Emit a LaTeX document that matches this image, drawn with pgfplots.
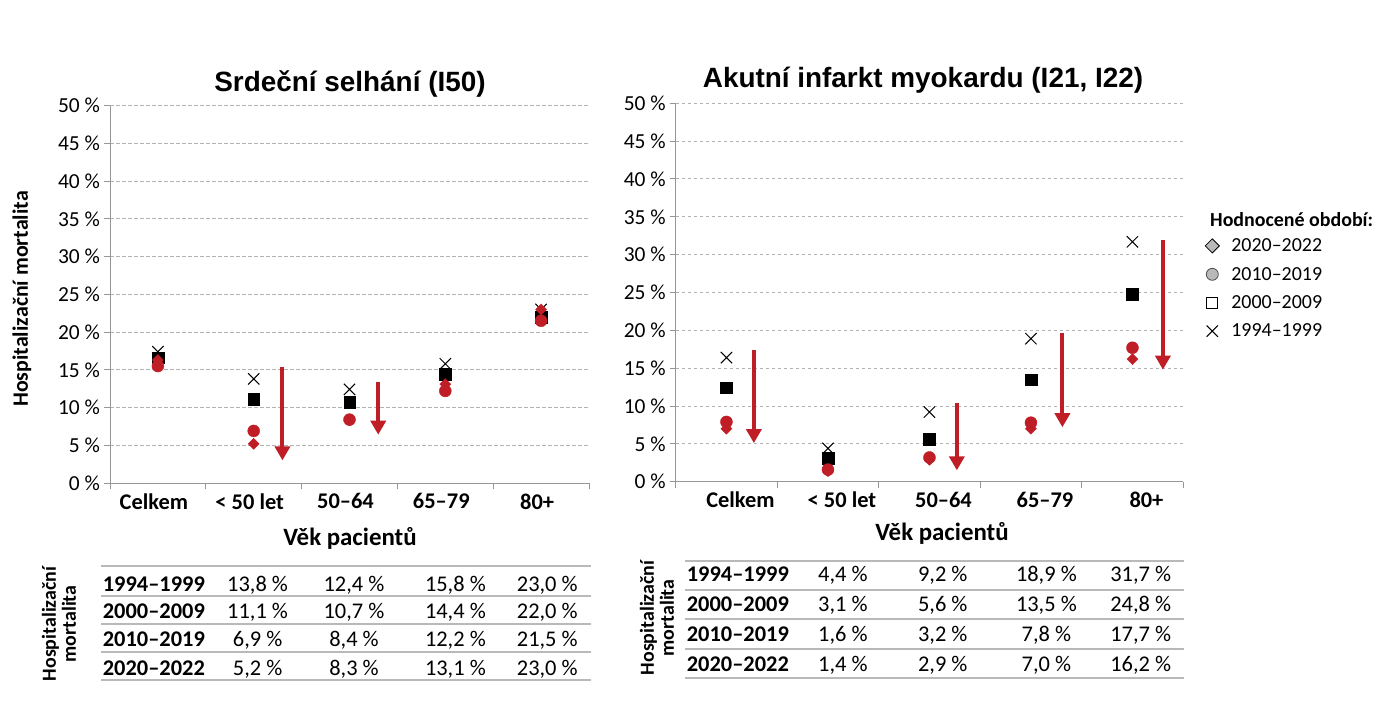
\documentclass[border=0pt]{standalone}
\usepackage{pgfplots}
\pgfplotsset{compat=1.18}
\usepackage{fontspec}
\setmainfont{Carlito}
\newfontfamily\arialfont{Liberation Sans}
\usetikzlibrary{arrows.meta}

\definecolor{mred}{RGB}{192,30,38}
\definecolor{gridgray}{RGB}{178,178,178}
\definecolor{axgray}{RGB}{150,150,150}
\definecolor{tabgray}{RGB}{185,185,185}

\pgfplotsset{
  mort/.style={
    scale only axis,
    clip=false,
    xmin=-0.5, xmax=4.5, ymin=0, ymax=50,
    axis x line*=bottom, axis y line*=left,
    axis line style={axgray, line width=1bp},
    xtick={0,...,4},
    xticklabels={Celkem, {< 50 let}, 50–64, 65–79, 80+},
    xticklabel style={font=\fontsize{22.5}{26}\selectfont\bfseries, yshift=-1bp},
    major x tick style={draw=none},
    minor xtick={-0.5,0.5,...,4.5},
    minor x tick style={axgray, line width=1bp},
    minor tick length=6bp,
    ytick={0,5,...,50},
    yticklabels={0 \%,5 \%,10 \%,15 \%,20 \%,25 \%,30 \%,35 \%,40 \%,45 \%,50 \%},
    yticklabel style={font=\fontsize{21.5}{25}\selectfont, xshift=-0.5bp},
    major y tick style={axgray, line width=1bp},
    major tick length=6bp,
    tick align=outside,
    ymajorgrids,
    grid style={gridgray, line width=1bp, dash pattern=on 3.5bp off 2.5bp},
  },
  s94/.style={only marks, mark=x, mark size=8bp, black, line width=1bp, forget plot},
  s00/.style={only marks, mark=square*, mark size=5.8bp, black, forget plot},
  s10/.style={only marks, mark=*, mark size=6bp, mred, forget plot},
  s20/.style={only marks, mark=square*, mark size=3.9bp, mark options={rotate=45}, mred, forget plot},
  arr/.style={mred, line width=4bp, -{Triangle[width=15bp, length=14bp]}, forget plot},
}
\tikzset{
  tval/.style={anchor=base, inner sep=0pt, font=\fontsize{22.5}{26}\selectfont},
  tlab/.style={anchor=base west, inner sep=0pt, font=\bfseries\fontsize{22.5}{26}\selectfont},
}

\begin{document}
\begin{tikzpicture}
\path[use as bounding box] (0,0) rectangle (1380bp,-719bp);

% Srdecni selhani
\begin{axis}[mort, at={(110bp,-483bp)}, anchor=south west, width=479bp, height=377.3bp,
  xticklabel style={xshift=-4bp}]
\addplot[s94] coordinates {(0,17.4) (1,13.8) (2,12.4) (3,15.8) (4,23.0)};
\addplot[s00] coordinates {(0,16.6) (1,11.1) (2,10.7) (3,14.4) (4,22.0)};
\addplot[s10] coordinates {(0,15.5) (1,6.9) (2,8.4) (3,12.2) (4,21.5)};
\addplot[s20] coordinates {(0,16.3) (1,5.2) (2,8.3) (3,13.1) (4,23.0)};
\addplot[arr] coordinates {(1.3,15.4) (1.3,3.0)};
\addplot[arr] coordinates {(2.3,13.4) (2.3,6.4)};
\end{axis}

% Akutni infarkt myokardu
\begin{axis}[mort, at={(675.7bp,-481.7bp)}, anchor=south west, width=507.5bp, height=378.4bp,
  xticklabel style={xshift=14bp},
  legend style={at={(1.043,0.648)}, anchor=north west, draw=none, fill=none,
    font=\fontsize{20}{24}\selectfont, row sep=10bp, inner sep=0pt,
    /tikz/every odd column/.append style={column sep=10bp}},
  legend cell align=left]
\addplot[s94] coordinates {(0,16.4) (1,4.4) (2,9.2) (3,18.9) (4,31.7)};
\addplot[s00] coordinates {(0,12.4) (1,3.1) (2,5.6) (3,13.5) (4,24.8)};
\addplot[s10] coordinates {(0,7.9) (1,1.6) (2,3.2) (3,7.8) (4,17.7)};
\addplot[s20] coordinates {(0,7.0) (1,1.4) (2,2.9) (3,7.0) (4,16.2)};
\addplot[arr] coordinates {(0.27,17.4) (0.27,5.1)};
\addplot[arr] coordinates {(2.27,10.4) (2.27,1.5)};
\addplot[arr] coordinates {(3.31,19.6) (3.31,7.2)};
\addplot[arr] coordinates {(4.3,31.9) (4.3,14.8)};
\addlegendimage{only marks, mark=square*, mark size=5bp, mark options={rotate=45, fill=gray!55, draw=black, line width=0.8bp}}
\addlegendentry{2020–2022}
\addlegendimage{only marks, mark=*, mark size=6bp, mark options={fill=gray!55, draw=black!70, line width=0.8bp}}
\addlegendentry{2010–2019}
\addlegendimage{only marks, mark=square, mark size=5.5bp, mark options={fill=white, draw=black, line width=1bp}}
\addlegendentry{2000–2009}
\addlegendimage{only marks, mark=x, mark size=8bp, mark options={black, line width=1bp}}
\addlegendentry{1994–1999}
\end{axis}

\begin{scope}[x=1bp, y=-1bp]
% titles and labels
\node[font=\arialfont\bfseries\fontsize{28}{32}\selectfont] at (350,84) {Srdeční selhání (I50)};
\node[font=\arialfont\bfseries\fontsize{28}{32}\selectfont] at (923,80) {Akutní infarkt myokardu (I21, I22)};
\node[rotate=90, font=\bfseries\fontsize{22}{26}\selectfont] at (22,299) {Hospitalizační mortalita};
\node[font=\bfseries\fontsize{25}{30}\selectfont] at (350,538) {Věk pacientů};
\node[font=\bfseries\fontsize{25}{30}\selectfont] at (942,533) {Věk pacientů};
\node[anchor=west, inner sep=0pt, font=\bfseries\fontsize{20}{24}\selectfont] at (1210,220) {Hodnocené období:};

% left table
\foreach \yy in {566,596,624,652,680} \draw[tabgray, line width=1.5bp] (101,\yy) -- (591,\yy);
\node[rotate=90, align=center, font=\bfseries\fontsize{20}{20}\selectfont] at (59,624) {Hospitalizační\\mortalita};
\foreach \lab/\a/\b/\c/\d/\ry in {1994–1999/13{,}8/12{,}4/15{,}8/23{,}0/591, 2000–2009/11{,}1/10{,}7/14{,}4/22{,}0/618, 2010–2019/6{,}9/8{,}4/12{,}2/21{,}5/646, 2020–2022/5{,}2/8{,}3/13{,}1/23{,}0/675}{
  \node[tlab] at (102.6,\ry) {\lab};
  \node[tval] at (257.6,\ry) {\a~\%};
  \node[tval] at (354,\ry) {\b~\%};
  \node[tval] at (455.4,\ry) {\c~\%};
  \node[tval] at (547.3,\ry) {\d~\%};
}

% right table
\foreach \yy in {561,590,619,649,678} \draw[tabgray, line width=1.5bp] (684.7,\yy) -- (1184,\yy);
\node[rotate=90, align=center, font=\bfseries\fontsize{20}{20}\selectfont] at (657,618) {Hospitalizační\\mortalita};
\foreach \lab/\a/\b/\c/\d/\ry in {1994–1999/4{,}4/9{,}2/18{,}9/31{,}7/581, 2000–2009/3{,}1/5{,}6/13{,}5/24{,}8/611, 2010–2019/1{,}6/3{,}2/7{,}8/17{,}7/641, 2020–2022/1{,}4/2{,}9/7{,}0/16{,}2/671}{
  \node[tlab] at (686.6,\ry) {\lab};
  \node[tval] at (842.9,\ry) {\a~\%};
  \node[tval] at (942.8,\ry) {\b~\%};
  \node[tval] at (1046.4,\ry) {\c~\%};
  \node[tval] at (1140.7,\ry) {\d~\%};
}
\end{scope}
\end{tikzpicture}
\end{document}
